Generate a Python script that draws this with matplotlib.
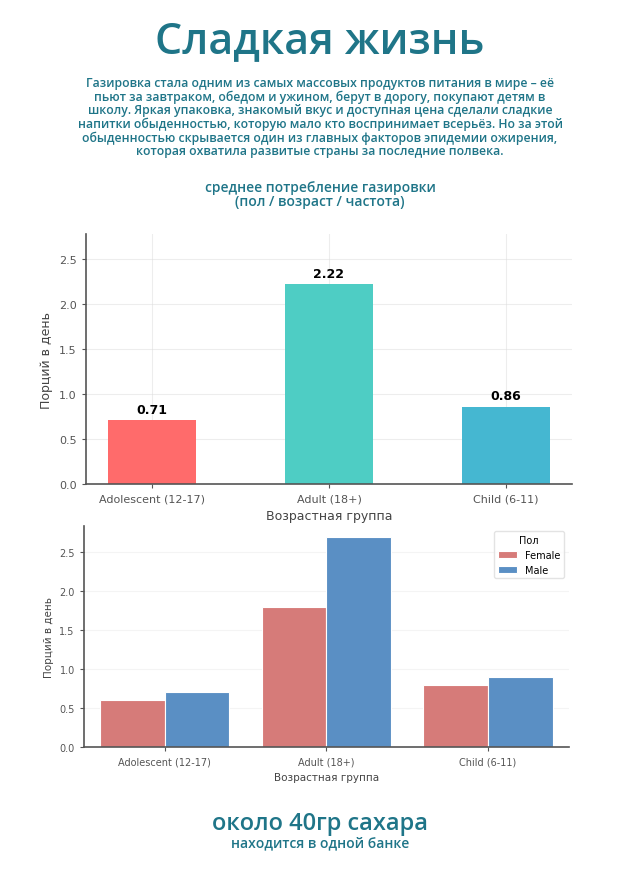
import matplotlib
matplotlib.use("Agg")
import matplotlib.pyplot as plt
import numpy as np

# данные
groups = ["Adolescent (12-17)", "Adult (18+)", "Child (6-11)"]
avg_servings = [0.71, 2.22, 0.86]
female_servings = [0.6, 1.8, 0.8]
male_servings = [0.7, 2.7, 0.9]
sexes = ["Female", "Male"]

bar_colors = ["#FF6B6B", "#4ECDC4", "#45B7D1"]
sex_colors = ["#D67B79", "#5A8FC4"]
teal = "#1F7588"
head_font = ["Open Sans", "DejaVu Sans"]

fig = plt.figure(figsize=(6.4, 8.78), dpi=100)
fig.patch.set_facecolor("white")

# заголовки
fig.text(0.5, 0.953, "Сладкая жизнь", ha="center", va="center",
         fontsize=31, color=teal, family=head_font, weight="semibold")
intro = ("Газировка стала одним из самых массовых продуктов питания в мире – её\n"
         "пьют за завтраком, обедом и ужином, берут в дорогу, покупают детям в\n"
         "школу. Яркая упаковка, знакомый вкус и доступная цена сделали сладкие\n"
         "напитки обыденностью, которую мало кто воспринимает всерьёз. Но за этой\n"
         "обыденностью скрывается один из главных факторов эпидемии ожирения,\n"
         "которая охватила развитые страны за последние полвека.")
fig.text(0.5, 0.866, intro, ha="center", va="center", fontsize=8.8,
         color=teal, family=head_font, weight="semibold", linespacing=1.05)
fig.text(0.5, 0.778, "среднее потребление газировки\n(пол / возраст / частота)",
         ha="center", va="center", fontsize=10, color=teal, family=head_font,
         weight="semibold", linespacing=0.95)


def style_axes(ax, fs):
    for side in ["top", "right"]:
        ax.spines[side].set_visible(False)
    for side in ["left", "bottom"]:
        ax.spines[side].set_color("#555555")
        ax.spines[side].set_linewidth(1.2)
    ax.tick_params(colors="#555555", labelsize=fs, length=3)
    ax.set_axisbelow(True)


# верхний график: среднее по возрасту
ax1 = fig.add_axes([0.134, 0.4476, 0.76, 0.2847])
x = np.arange(len(groups))
bars = ax1.bar(x, avg_servings, width=0.5, color=bar_colors)
ax1.set_xticks(x, groups)
ax1.set_ylim(0, max(avg_servings) * 1.25)
ax1.grid(True, color="#dddddd", alpha=0.5, linewidth=0.8)
style_axes(ax1, 8)
ax1.set_ylabel("Порций в день", fontsize=9, color="#444444")
ax1.set_xlabel("Возрастная группа", fontsize=9, color="#444444")
for b, v in zip(bars, avg_servings):
    ax1.text(b.get_x() + b.get_width() / 2, v + 0.05, f"{v:.2f}",
             ha="center", va="bottom", fontsize=9, weight="bold")

# нижний график: по полу
ax2 = fig.add_axes([0.131, 0.148, 0.758, 0.2517])
w = 0.4
for i, (sex, vals) in enumerate(zip(sexes, [female_servings, male_servings])):
    ax2.bar(x + (i - 0.5) * w, vals, width=w, color=sex_colors[i],
            edgecolor="white", linewidth=0.8, label=sex)
ax2.set_xticks(x, groups)
ax2.set_xlim(-0.5, len(groups) - 0.5)
ax2.grid(True, axis="y", color="#eeeeee", alpha=0.6, linewidth=0.8)
style_axes(ax2, 7)
ax2.set_ylabel("Порций в день", fontsize=7.5, color="#444444")
ax2.set_xlabel("Возрастная группа", fontsize=7.5, color="#444444")
leg = ax2.legend(title="Пол", fontsize=7, title_fontsize=7, loc="upper right",
                 frameon=True, edgecolor="#dddddd")

# подпись внизу
fig.text(0.5, 0.062, "около 40гр сахара", ha="center", va="center",
         fontsize=17, color=teal, family=head_font, weight="semibold")
fig.text(0.5, 0.04, "находится в одной банке", ha="center", va="center",
         fontsize=10, color=teal, family=head_font, weight="semibold")

fig.savefig("out.png", dpi=100)
